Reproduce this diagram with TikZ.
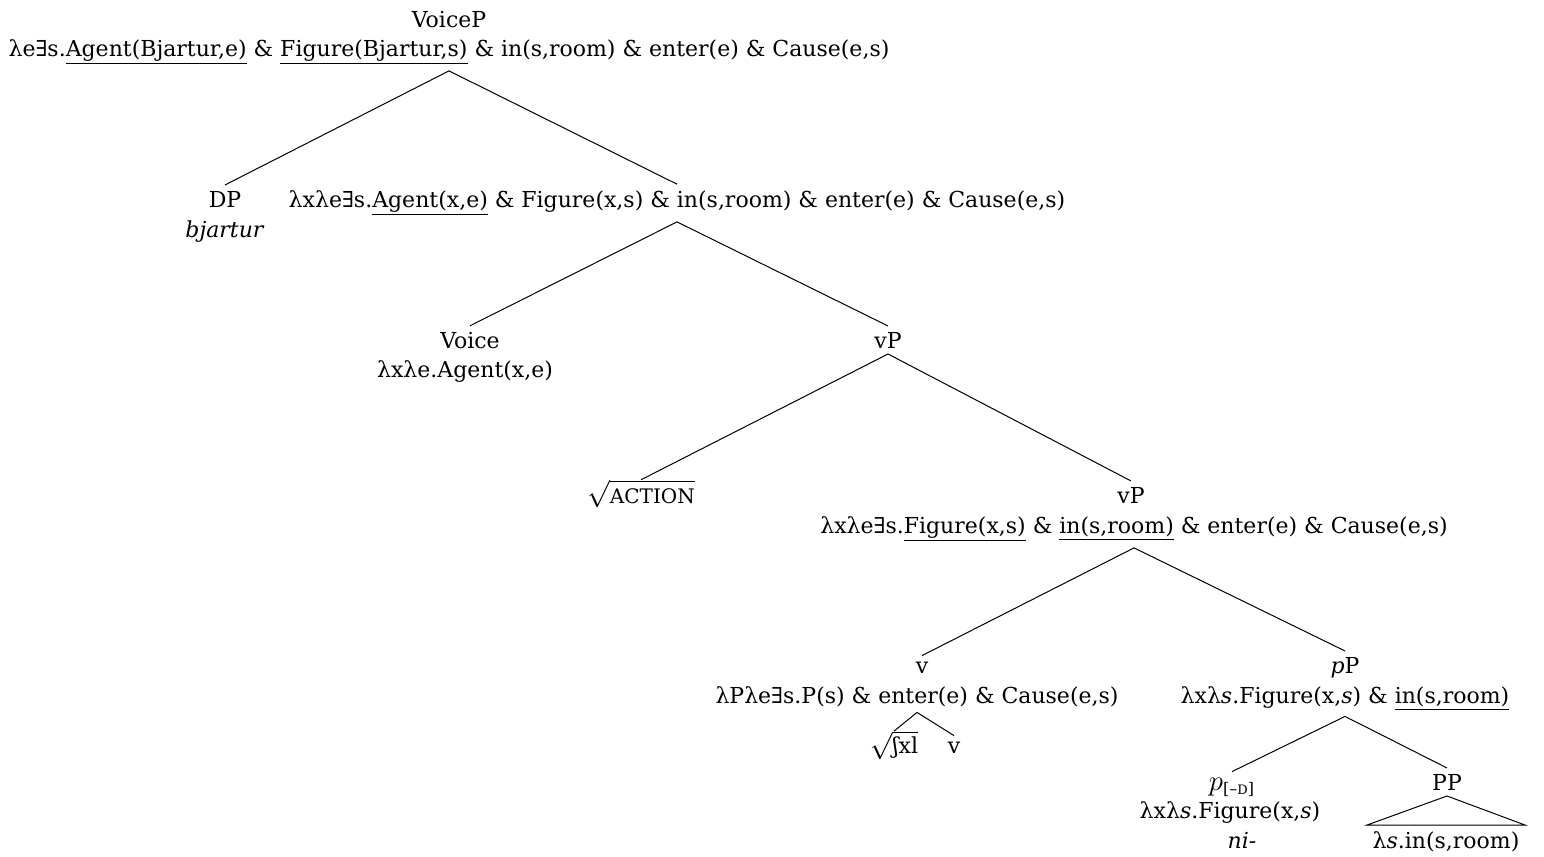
\documentclass[tikz,border=0pt]{standalone}
\usepackage{graphicx}
\usepackage{fontspec}
\setmainfont{DejaVu Serif}
\newcommand\uln[1]{\underline{#1}}
\tikzset{
  lbl/.style={anchor=base, inner sep=0pt, outer sep=3pt, font=\fontsize{11pt}{13pt}\selectfont},
  rad/.style={lbl, outer sep=0pt},
  br/.style={draw=black, line width=0.5pt}
}
\begin{document}
\begin{tikzpicture}[x=0.5pt,y=-0.5pt]
\useasboundingbox (0,0) rectangle (1544,857);
\node[lbl] (vpL) at (449,27) {VoiceP};
\node[lbl] (vpS) at (449,56) {λe∃s.\uln{Agent(Bjartur,e)} \& \uln{Figure(Bjartur,s)} \& in(s,room) \& enter(e) \& Cause(e,s)};
\node[lbl] (dp) at (225,207) {DP};
\node[lbl] (dpw) at (225,237) {\textit{bjartur}};
\node[lbl] (n1) at (677,207) {λxλe∃s.\uln{Agent(x,e)} \& Figure(x,s) \& in(s,room) \& enter(e) \& Cause(e,s)};
\node[lbl] (voice) at (470,348) {Voice};
\node[lbl] (voiceS) at (465,377) {λxλe.Agent(x,e)};
\node[lbl] (vP) at (888,348) {vP};
\node[rad] (act) at (641,503) {\scalebox{1.25}{$\sqrt{\hbox{\fontsize{8pt}{10pt}\selectfont ACTION}}$}};
\node[lbl] (vP2) at (1131,503) {vP};
\node[lbl] (vP2S) at (1134,533) {λxλe∃s.\uln{Figure(x,s)} \& \uln{in(s,room)} \& enter(e) \& Cause(e,s)};
\node[lbl] (v) at (922,673) {v};
\node[lbl] (vS) at (917,703) {λPλe∃s.P(s) \& enter(e) \& Cause(e,s)};
\node[rad] (root) at (894,753) {\scalebox{1.25}{$\sqrt{\hbox{\fontsize{8.8pt}{10pt}\selectfont ʃxl}}$}};
\node[lbl] (vs) at (954,753) {v};
\node[lbl] (pP) at (1345,673) {\textit{p}P};
\node[lbl] (pPS) at (1345,703) {λxλ\textit{s}.Figure(x,\textit{s}) \& \uln{in(s,room)}};
\node[lbl, font=\fontsize{14pt}{16pt}\selectfont] (pD) at (1232,790) {$p_{\hbox{\fontsize{8pt}{9pt}\selectfont[–{\fontsize{6.5pt}{8pt}\selectfont D}]}}$};
\node[lbl] (pDS) at (1230,818) {λxλ\textit{s}.Figure(x,\textit{s})};
\node[lbl] (ni) at (1242,848) {\textit{ni-}};
\node[lbl] (PP) at (1447,790) {PP};
\node[lbl] (pin) at (1446,848) {λ\textit{s}.in(s,room)};
% branches
\draw[br] (dp.north) -- (vpS.south) -- (n1.north);
\draw[br] (voice.north) -- (n1.south) -- (vP.north);
\draw[br] (act.north) -- (vP.south) -- (vP2.north);
\draw[br] (v.north) -- (vP2S.south) -- (pP.north);
\draw[br] (root.north) -- (vS.south) -- (vs.north);
\draw[br] (pD.north) -- (pPS.south) -- (PP.north);
\draw[br] (PP.south) -- (pin.north west) -- (pin.north east) -- cycle;
\end{tikzpicture}
\end{document}
